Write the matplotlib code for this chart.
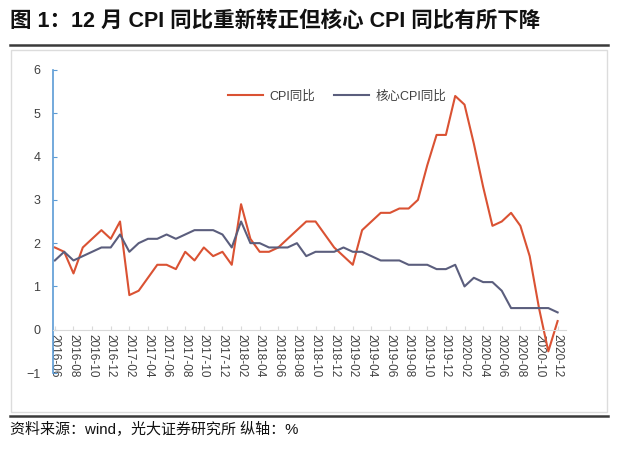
import numpy as np
import pandas as pd
import matplotlib
matplotlib.use("Agg")
import matplotlib.pyplot as plt
from matplotlib.patches import Rectangle
from matplotlib.lines import Line2D

plt.rcParams["font.family"] = ["Liberation Sans", "Noto Sans CJK SC", "DejaVu Sans"]

# monthly data, 2016-06 .. 2020-12
months = pd.date_range("2016-06", "2020-12", freq="MS").strftime("%Y-%m").tolist()

cpi_yoy = [1.9, 1.8, 1.3, 1.9, 2.1, 2.3, 2.1,
           2.5, 0.8, 0.9, 1.2, 1.5, 1.5, 1.4, 1.8, 1.6, 1.9, 1.7, 1.8,
           1.5, 2.9, 2.1, 1.8, 1.8, 1.9, 2.1, 2.3, 2.5, 2.5, 2.2, 1.9,
           1.7, 1.5, 2.3, 2.5, 2.7, 2.7, 2.8, 2.8, 3.0, 3.8, 4.5, 4.5,
           5.4, 5.2, 4.3, 3.3, 2.4, 2.5, 2.7, 2.4, 1.7, 0.5, -0.5, 0.2]

core_cpi_yoy = [1.6, 1.8, 1.6, 1.7, 1.8, 1.9, 1.9,
                2.2, 1.8, 2.0, 2.1, 2.1, 2.2, 2.1, 2.2, 2.3, 2.3, 2.3, 2.2,
                1.9, 2.5, 2.0, 2.0, 1.9, 1.9, 1.9, 2.0, 1.7, 1.8, 1.8, 1.8,
                1.9, 1.8, 1.8, 1.7, 1.6, 1.6, 1.6, 1.5, 1.5, 1.5, 1.4, 1.4,
                1.5, 1.0, 1.2, 1.1, 1.1, 0.9, 0.5, 0.5, 0.5, 0.5, 0.5, 0.4]

title = "图 1：12 月 CPI 同比重新转正但核心 CPI 同比有所下降"
source = "资料来源：wind，光大证券研究所 纵轴：%"

W, H = 618, 449
fig = plt.figure(figsize=(W / 100, H / 100), dpi=100)

# frame and rules
fig.add_artist(Rectangle((11 / W, 1 - 412 / H), 596 / W, 362 / H, transform=fig.transFigure,
                         facecolor="none", edgecolor="#dcdcdc", linewidth=1))
fig.add_artist(Line2D([10 / W, 608 / W], [1 - 45 / H] * 2, transform=fig.transFigure,
                      color="#3a3a3a", linewidth=1.8))
fig.add_artist(Line2D([10 / W, 608 / W], [1 - 416 / H] * 2, transform=fig.transFigure,
                      color="#3a3a3a", linewidth=1.8))

fig.text(10 / W, 1 - 21 / H, title, fontsize=15.5, fontweight="bold", va="center", ha="left",
         family=["Liberation Sans", "Noto Sans CJK SC"], color="#111111")
fig.text(10 / W, 1 - 429 / H, source, fontsize=10.8, va="center", ha="left",
         family=["Liberation Sans", "Noto Sans CJK SC"], color="#111111")

ax = fig.add_axes([53 / W, 1 - 373 / H, (566 - 53) / W, (373 - 70) / H])
x = np.arange(len(months))
ax.plot(x, cpi_yoy, color="#DA5233", linewidth=1.5, label="CPI同比")
ax.plot(x, core_cpi_yoy, color="#5B5E7D", linewidth=1.5, label="核心CPI同比")

ax.set_xlim(-0.2, 54.9)
ax.set_ylim(-1, 6)
ax.set_yticks(range(-1, 7))

for s in ["top", "right"]:
    ax.spines[s].set_visible(False)
ax.spines["left"].set_color("#5B9BD5")
ax.spines["left"].set_linewidth(1.2)
ax.spines["bottom"].set_position(("data", 0))
ax.spines["bottom"].set_color("#d9d9d9")

ax.set_xticks(x[::2])
ax.set_xticklabels(months[::2], rotation=270, fontsize=8.5, color="#404040")
ax.tick_params(axis="x", direction="in", length=3, color="#d9d9d9", pad=3)
ax.tick_params(axis="y", direction="in", length=3, color="#5B9BD5", labelsize=9,
               labelcolor="#404040", pad=9)

ax.legend(loc="upper left", bbox_to_anchor=(0.32, 0.97), ncol=2, frameon=False,
          fontsize=9, handlelength=2.8, columnspacing=1.5, handletextpad=0.5,
          labelcolor="#404040")

fig.savefig("out.png", dpi=100)
